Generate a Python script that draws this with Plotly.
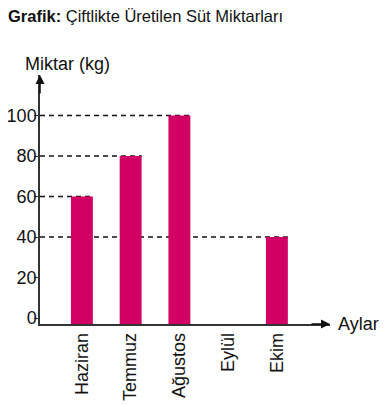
import plotly.graph_objects as go

months = ["Haziran", "Temmuz", "Ağustos", "Eylül", "Ekim"]
milk_kg = [60, 80, 100, 0, 40]
y_ticks = [0, 20, 40, 60, 80, 100]

BAR_COLOR = "#D20062"
FONT = "Liberation Sans, Arial, sans-serif"
X_RANGE = [-0.86, 5.09]
Y_BASE = -2.96          # the x-axis line sits a little below the zero tick
Y_RANGE = [Y_BASE, 120]
BAR_W = 0.45

fig = go.Figure()
fig.add_trace(go.Bar(x=months, y=[v - Y_BASE if v > 0 else 0 for v in milk_kg], base=Y_BASE,
                     marker=dict(color=BAR_COLOR, line=dict(width=0)),
                     width=BAR_W, hoverinfo="skip"))

# dashed guide lines from axis to each bar
for i, v in enumerate(milk_kg):
    if v > 0:
        fig.add_shape(type="line", xref="x", yref="y", x0=X_RANGE[0], x1=i + BAR_W / 2,
                      y0=v, y1=v, layer="below",
                      line=dict(color="#111", width=1.4, dash="5px,4px"))

# page body has an 8px margin, so the figure is 8px smaller and shifted
fig.update_layout(
    width=381, height=397,
    margin=dict(l=32, r=59, t=67, b=81),
    paper_bgcolor="white", plot_bgcolor="white",
    showlegend=False,
    font=dict(family=FONT, color="#111"),
    title=dict(text="<b>Grafik:</b> Çiftlikte Üretilen Süt Miktarları",
               x=0, xref="container", xanchor="left",
               y=1 - 8 / 397, yref="container", yanchor="middle",
               pad=dict(l=0, r=0, t=0, b=0),
               font=dict(size=16.5, family=FONT, color="#111")),
    xaxis=dict(range=X_RANGE, showgrid=False, zeroline=False, showline=True, automargin=False,
               linecolor="#333", linewidth=1.5, ticks="", tickangle=-90,
               tickfont=dict(size=18, family=FONT, color="#111"), fixedrange=True),
    yaxis=dict(range=Y_RANGE, showgrid=False, zeroline=False, showline=True, automargin=False,
               linecolor="#333", linewidth=1.5, tickvals=y_ticks, ticks="outside",
               ticklen=4, tickcolor="#333", tickwidth=1.3, ticklabelstandoff=-6,
               tickfont=dict(size=18, family=FONT, color="#111"), fixedrange=True),
)

# axis arrows
fig.add_annotation(xref="paper", yref="paper", x=0, y=1, ax=0, ay=20, text="",
                   showarrow=True, arrowhead=2, arrowsize=1.2, arrowwidth=1.5, arrowcolor="#111")
fig.add_annotation(xref="paper", yref="paper", x=1, y=0, ax=-20, ay=0, text="",
                   showarrow=True, arrowhead=2, arrowsize=1.2, arrowwidth=1.5, arrowcolor="#111")

# axis titles
fig.add_annotation(xref="paper", yref="paper", x=1, y=0, xshift=6, xanchor="left", yanchor="middle",
                   text="Aylar", showarrow=False, font=dict(size=18, family=FONT, color="#111"))
fig.add_annotation(xref="paper", yref="paper", x=0, y=1, xshift=27, yshift=-1, xanchor="center",
                   yanchor="bottom", text="Miktar (kg)", showarrow=False,
                   font=dict(size=18, family=FONT, color="#111"))

fig.write_html("out.html")
